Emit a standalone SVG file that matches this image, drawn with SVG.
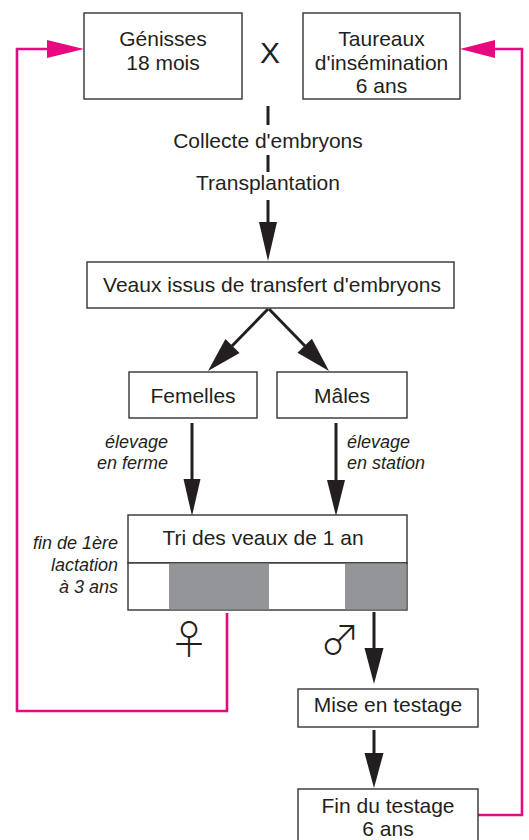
<svg xmlns="http://www.w3.org/2000/svg" width="529" height="840" viewBox="0 0 529 840">
<style>
.box{fill:#fff;stroke:#333;stroke-width:1.4}
.t{font-family:"Liberation Sans",Arial,sans-serif;font-size:21px;fill:#231f20;text-anchor:middle}
.i{font-family:"Liberation Sans",Arial,sans-serif;font-size:18px;font-style:italic;fill:#231f20}
.sh{stroke:#231f20;stroke-width:3;fill:none}
.ah{fill:#231f20}
.pk{stroke:#e8087f;stroke-width:2.6;fill:none}
.pa{fill:#e8087f}
.gray{fill:#939598}
.sym{font-family:"Noto Sans CJK JP","Noto Sans CJK SC",sans-serif;font-size:40px;font-weight:300;fill:#231f20;text-anchor:middle}
</style>
<rect width="529" height="840" fill="#fff"/>
<g id="connectors">
<polyline class="pk" points="227,613 227,711 17,711 17,49 50,49"/>
<polygon class="pa" points="84,49 47,40 47,58"/>
<polyline class="pk" points="478,815 522,815 522,49 492,49"/>
<polygon class="pa" points="460,49 495,40 495,58"/>
<line class="sh" x1="268" y1="106" x2="268" y2="125"/>
<line class="sh" x1="268" y1="155" x2="268" y2="172"/>
<line class="sh" x1="268" y1="200" x2="268" y2="224"/>
<polygon class="ah" points="268,261 259,222 277,222"/>
<line class="sh" x1="268" y1="309" x2="232" y2="346"/>
<polygon class="ah" points="208,371 239.6,353 225.4,339"/>
<line class="sh" x1="269" y1="309" x2="305" y2="346"/>
<polygon class="ah" points="329,371 311.9,338.8 297.5,352.8"/>
<line class="sh" x1="192" y1="423" x2="192" y2="481"/>
<polygon class="ah" points="192,516 183.5,479 200.5,479"/>
<line class="sh" x1="336" y1="423" x2="336" y2="482"/>
<polygon class="ah" points="336,516 327,480 345,480"/>
<line class="sh" x1="374" y1="612" x2="374" y2="650"/>
<polygon class="ah" points="374,684 364.5,648 383.5,648"/>
<line class="sh" x1="374" y1="730" x2="374" y2="755"/>
<polygon class="ah" points="374,788 364.5,753 383.5,753"/>
</g>
<g id="genisses">
<rect class="box" x="84" y="13" width="158" height="86"/>
<text class="t" x="163" y="46">Génisses</text>
<text class="t" x="163" y="70">18 mois</text>
</g>
<g id="cross">
<text class="t" x="270" y="63" style="font-size:30px">X</text>
</g>
<g id="taureaux">
<rect class="box" x="303" y="13" width="157" height="86"/>
<text class="t" x="381.5" y="46">Taureaux</text>
<text class="t" x="381.5" y="70">d'insémination</text>
<text class="t" x="381.5" y="93">6 ans</text>
</g>
<g id="collecte">
<text class="t" x="268" y="148">Collecte d'embryons</text>
</g>
<g id="transplantation">
<text class="t" x="268" y="190">Transplantation</text>
</g>
<g id="veaux">
<rect class="box" x="87" y="262" width="367" height="46"/>
<text class="t" x="272" y="292">Veaux issus de transfert d'embryons</text>
</g>
<g id="femelles">
<rect class="box" x="129" y="372" width="128" height="46"/>
<text class="t" x="193" y="403">Femelles</text>
</g>
<g id="males">
<rect class="box" x="277" y="372" width="130" height="46"/>
<text class="t" x="342" y="403">Mâles</text>
</g>
<g id="label-ferme">
<text class="i" x="168" y="448" text-anchor="end">élevage</text>
<text class="i" x="168" y="469" text-anchor="end">en ferme</text>
</g>
<g id="label-station">
<text class="i" x="347" y="448">élevage</text>
<text class="i" x="347" y="469">en station</text>
</g>
<g id="tri">
<rect class="box" x="128" y="515" width="279" height="48"/>
<text class="t" x="263" y="545">Tri des veaux de 1 an</text>
<rect class="box" x="128" y="563" width="279" height="47"/>
<rect class="gray" x="169" y="563.7" width="100" height="45.6"/>
<rect class="gray" x="345" y="563.7" width="61.3" height="45.6"/>
</g>
<g id="label-lactation">
<text class="i" x="118" y="549" text-anchor="end">fin de 1ère</text>
<text class="i" x="118" y="571" text-anchor="end">lactation</text>
<text class="i" x="118" y="593" text-anchor="end">à 3 ans</text>
</g>
<g id="symbols">
<text class="sym" x="189" y="654">♀</text>
<text class="sym" x="340" y="654">♂</text>
</g>
<g id="mise">
<rect class="box" x="298" y="689" width="180" height="38"/>
<text class="t" x="388" y="712">Mise en testage</text>
</g>
<g id="fin">
<rect class="box" x="298" y="789" width="180" height="60"/>
<text class="t" x="388" y="813">Fin du testage</text>
<text class="t" x="388" y="836">6 ans</text>
</g>
</svg>
